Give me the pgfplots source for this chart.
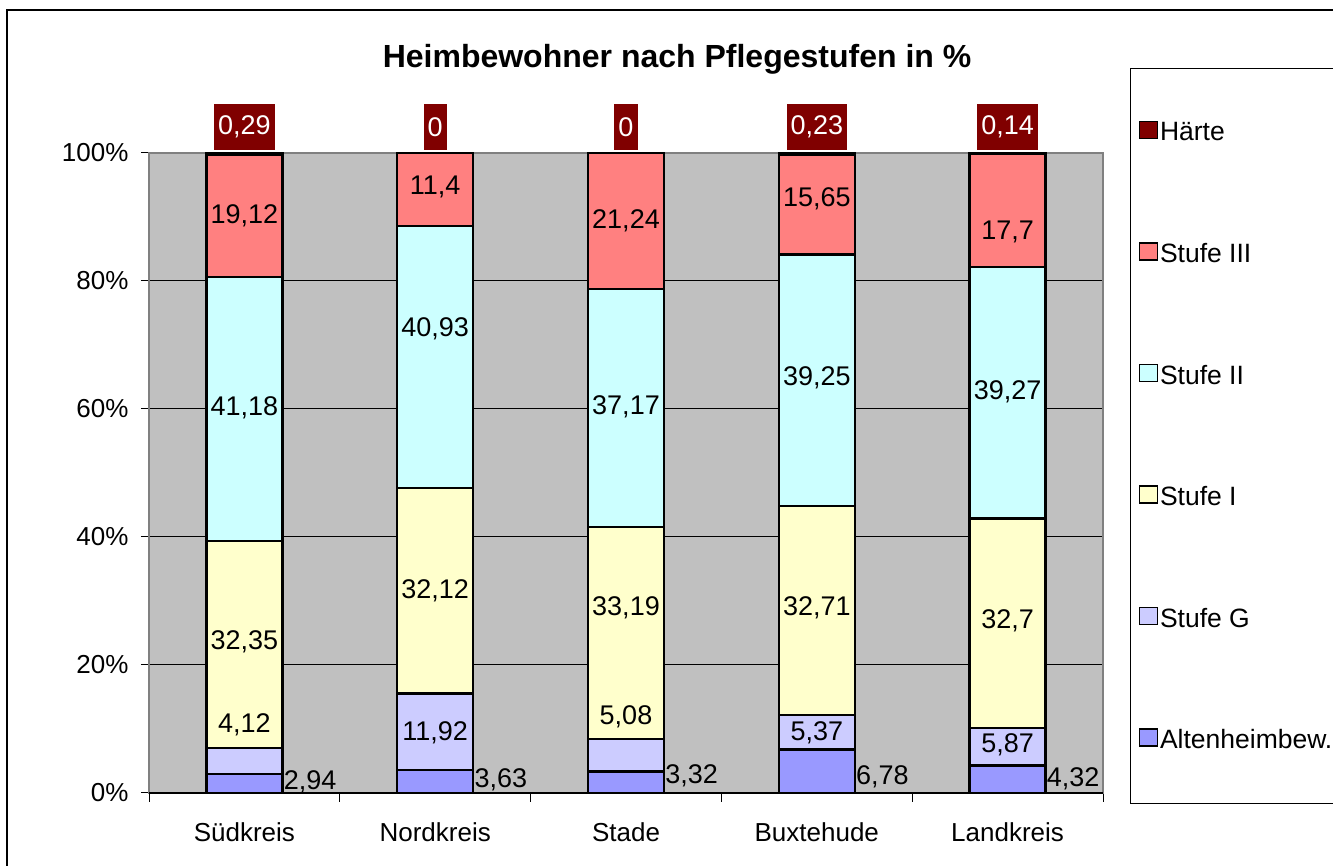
\documentclass[border=0pt]{standalone}
\usepackage{fontspec}
\setmainfont{Liberation Sans}
\usepackage{pgfplots}
\pgfplotsset{compat=1.18}

\definecolor{alten}{HTML}{9999FF}
\definecolor{stufeg}{HTML}{CCCCFF}
\definecolor{stufei}{HTML}{FFFFCC}
\definecolor{stufeii}{HTML}{CCFFFF}
\definecolor{stufeiii}{HTML}{FF8080}
\definecolor{haerte}{HTML}{800000}
\definecolor{plotgray}{HTML}{C0C0C0}
\definecolor{axgray}{HTML}{808080}

\newcommand{\fs}{\fontsize{26}{31}\selectfont}
\newcommand{\fl}{\fontsize{27}{32}\selectfont}

\pgfplotsset{
  bar/.style={draw=black, line width=2.5pt,
    legend image code/.code={\draw[##1, line width=1.5pt] (0pt,-6pt) rectangle (18pt,11pt);}},
  frame/.style={scale only axis, width=954pt, height=640pt,
    at={(149pt,73pt)}, anchor=south west,
    xmin=-0.5, xmax=4.5, ymin=0, ymax=100},
}

% label positions (x, y in %) and values
\pgfplotstableread{
x y v
0 90.2 19.12
0 60.2 41.18
0 23.7 32.35
0 10.6 4.12
1 94.7 11.4
1 72.5 40.93
1 31.6 32.12
1 9.4 11.92
2 89.4 21.24
2 60.3 37.17
2 28.9 33.19
2 11.9 5.08
3 92.8 15.65
3 64.8 39.25
3 28.9 32.71
3 9.4 5.37
4 87.7 17.7
4 62.7 39.27
4 26.9 32.7
4 7.5 5.87
}\centerlabels
\pgfplotstableread{
x y v
0.2 1.7 2.94
1.2 2.0 3.63
2.2 2.7 3.32
3.2 2.5 6.78
4.2 2.2 4.32
}\sidelabels
\pgfplotstableread{
x y v
0 100 0.29
1 100 0
2 100 0
3 100 0.23
4 100 0.14
}\toplabels

\begin{document}
\begin{tikzpicture}
\useasboundingbox (0,0) rectangle (1333pt,866pt);
\draw[black, line width=2pt] (7pt,856pt) rectangle (1350pt,-20pt);

\begin{axis}[frame,
  ybar stacked, bar width=76pt,
  xtick={0,...,4},
  xticklabels={Südkreis,Nordkreis,Stade,Buxtehude,Landkreis},
  minor xtick={-0.5,0.5,...,4.5},
  major x tick style={draw=none},
  ytick={0,20,...,100},
  yticklabel={\pgfmathprintnumber{\tick}\%},
  /pgf/number format/assume math mode=true,
  tick align=outside, xtick pos=left, ytick pos=left,
  major tick length=8pt, minor tick length=9pt,
  tick style={black, line width=1pt},
  minor tick style={black, line width=1pt},
  ymajorgrids, grid style={black, line width=1pt},
  axis background/.style={fill=plotgray},
  axis line style={draw=axgray, line width=2pt},
  tick label style={font=\fs},
  xticklabel style={yshift=-18pt},
  yticklabel style={xshift=-9pt},
  title={Heimbewohner nach Pflegestufen in \%},
  title style={at={(0.5535,1.137)}, anchor=center, font=\bfseries\fontsize{32}{36}\selectfont},
  legend style={at={(1.0283,1.1328)}, anchor=north west, draw=black, line width=1pt,
    inner xsep=8pt, inner ysep=3pt, row sep=0pt,
    nodes={font=\fontsize{26.5}{31}\selectfont, minimum height=121.5pt, inner sep=2pt}},
  legend cell align=left,
  reverse legend,
]
\addplot[bar, fill=alten] coordinates {(0,2.94) (1,3.63) (2,3.32) (3,6.78) (4,4.32)};
\addlegendentry{Altenheimbew.}
\addplot[bar, fill=stufeg] coordinates {(0,4.12) (1,11.92) (2,5.08) (3,5.37) (4,5.87)};
\addlegendentry{Stufe G}
\addplot[bar, fill=stufei] coordinates {(0,32.35) (1,32.12) (2,33.19) (3,32.71) (4,32.7)};
\addlegendentry{Stufe I}
\addplot[bar, fill=stufeii] coordinates {(0,41.18) (1,40.93) (2,37.17) (3,39.25) (4,39.27)};
\addlegendentry{Stufe II}
\addplot[bar, fill=stufeiii] coordinates {(0,19.12) (1,11.4) (2,21.24) (3,15.65) (4,17.7)};
\addlegendentry{Stufe III}
\addplot[bar, fill=haerte] coordinates {(0,0.29) (1,0) (2,0) (3,0.23) (4,0.14)};
\addlegendentry{Härte}
\end{axis}

\begin{axis}[frame, hide axis, clip=false,
  /pgf/number format/assume math mode=true,
  nodes near coords={\pgfmathprintnumber[use comma]{\pgfplotspointmeta}},
  point meta=explicit]
\draw[black, line width=1.5pt] (rel axis cs:0,0) -- (rel axis cs:1,0);
\addplot[only marks, mark=none, nodes near coords style={anchor=center, font=\fl, inner sep=1pt}]
  table[x=x, y=y, meta=v] {\centerlabels};
\addplot[only marks, mark=none, nodes near coords style={anchor=west, font=\fl, inner sep=1pt}]
  table[x=x, y=y, meta=v] {\sidelabels};
\addplot[only marks, mark=none, nodes near coords style={anchor=south, font=\fl, fill=haerte,
    text=white, inner xsep=4pt, inner ysep=0pt, minimum height=46pt, yshift=3pt}]
  table[x=x, y=y, meta=v] {\toplabels};
\end{axis}
\end{tikzpicture}
\end{document}
